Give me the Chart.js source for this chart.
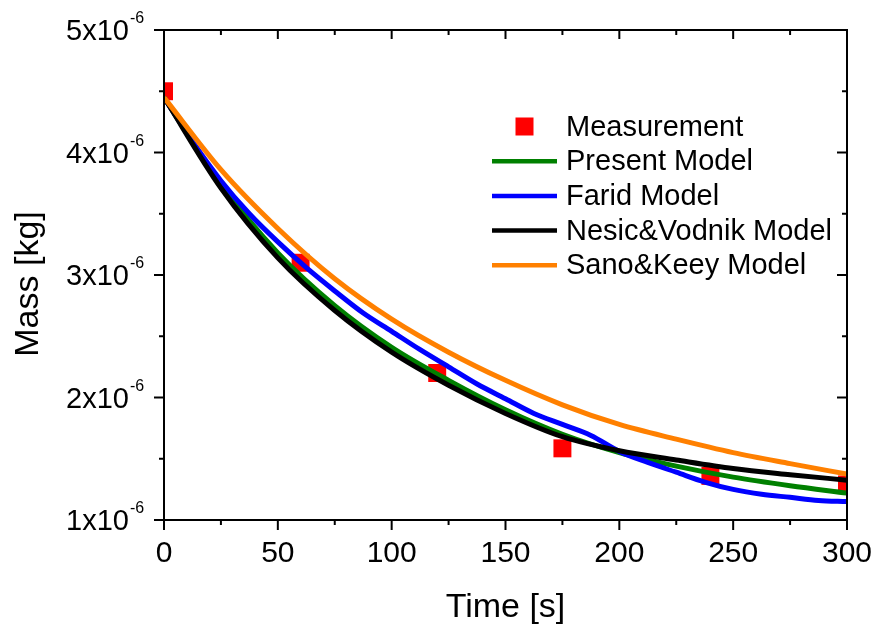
<!DOCTYPE html>
<html>
<head>
<meta charset="utf-8">
<script src="https://cdn.jsdelivr.net/npm/chart.js@4/dist/chart.umd.min.js"></script>
<style>
  html, body { margin: 0; padding: 0; background: #fff; }
  canvas { display: block; }
</style>
</head>
<body>
<canvas id="massChart" width="875" height="628"></canvas>
<script>
// measured mass (red squares)
const measTime = [0, 60, 120, 175, 240, 300];
const measMass = [4.50e-6, 3.10e-6, 2.20e-6, 1.585e-6, 1.36e-6, 1.29e-6];

// smooth models, read every 25 s
const modelTime = [0, 25, 50, 75, 100, 125, 150, 175, 200, 225, 250, 275, 300];
const presentModel = [4.45e-6, 3.74e-6, 3.18e-6, 2.75e-6, 2.41e-6, 2.14e-6, 1.90e-6, 1.70e-6, 1.55e-6, 1.44e-6, 1.35e-6, 1.28e-6, 1.22e-6];
const nesicVodnikModel = [4.45e-6, 3.71e-6, 3.14e-6, 2.71e-6, 2.37e-6, 2.10e-6, 1.87e-6, 1.68e-6, 1.565e-6, 1.49e-6, 1.42e-6, 1.37e-6, 1.325e-6];
const sanoKeeyModel = [4.45e-6, 3.86e-6, 3.38e-6, 2.97e-6, 2.64e-6, 2.37e-6, 2.14e-6, 1.94e-6, 1.78e-6, 1.66e-6, 1.55e-6, 1.46e-6, 1.375e-6];

// Farid model is a bit wobbly, read every 12.5 s
const faridTime = [0, 12.5, 25, 37.5, 50, 62.5, 75, 87.5, 100, 112.5, 125, 137.5, 150, 162.5, 175, 187.5, 200, 212.5, 225, 237.5, 250, 262.5, 275, 287.5, 300];
const faridModel = [4.45e-6, 4.09e-6, 3.77e-6, 3.50e-6, 3.27e-6, 3.06e-6, 2.87e-6, 2.69e-6, 2.54e-6, 2.39e-6, 2.25e-6, 2.11e-6, 1.99e-6, 1.87e-6, 1.78e-6, 1.69e-6, 1.56e-6, 1.47e-6, 1.39e-6, 1.31e-6, 1.25e-6, 1.21e-6, 1.185e-6, 1.16e-6, 1.15e-6];

const xMajorTicks = [0, 50, 100, 150, 200, 250, 300];
const xMinorTicks = [25, 75, 125, 175, 225, 275];
const yMajorTicks = [1e-6, 2e-6, 3e-6, 4e-6, 5e-6];
const yMinorTicks = [1.5e-6, 2.5e-6, 3.5e-6, 4.5e-6];
const yTickLabels = ['1x10', '2x10', '3x10', '4x10', '5x10'];
const yTickExp = '-6';

const FONT = '"Liberation Sans", Arial, sans-serif';

function pairs(xs, ys) {
  return xs.map((x, i) => ({ x: x, y: ys[i] }));
}

const series = [
  { label: 'Present Model', color: '#008000', data: pairs(modelTime, presentModel), order: 4 },
  { label: 'Farid Model', color: '#0000ff', data: pairs(faridTime, faridModel), order: 3 },
  { label: 'Nesic&Vodnik Model', color: '#000000', data: pairs(modelTime, nesicVodnikModel), order: 2 },
  { label: 'Sano&Keey Model', color: '#ff8000', data: pairs(modelTime, sanoKeeyModel), order: 1 }
];

const datasets = [{
  label: 'Measurement',
  data: pairs(measTime, measMass),
  showLine: false,
  pointStyle: 'rect',
  pointRadius: 12.7,
  backgroundColor: '#ff0000',
  borderColor: '#ff0000',
  borderWidth: 0,
  clip: 0,
  order: 5
}].concat(series.map(s => ({
  label: s.label,
  data: s.data,
  borderColor: s.color,
  backgroundColor: s.color,
  borderWidth: 5,
  pointRadius: 0,
  cubicInterpolationMode: 'monotone',
  fill: false,
  clip: 0,
  order: s.order
})));

// frame, ticks, labels and legend drawn the way Origin does it
const originLook = {
  id: 'originLook',
  afterDraw(chart) {
    const ctx = chart.ctx;
    const a = chart.chartArea;
    const xs = chart.scales.x;
    const ys = chart.scales.y;
    ctx.save();
    ctx.strokeStyle = '#000';
    ctx.fillStyle = '#000';
    ctx.lineWidth = 2;
    ctx.strokeRect(a.left, a.top, a.right - a.left, a.bottom - a.top);

    function line(x1, y1, x2, y2) {
      ctx.beginPath();
      ctx.moveTo(x1, y1);
      ctx.lineTo(x2, y2);
      ctx.stroke();
    }

    xMajorTicks.forEach(v => {
      const px = xs.getPixelForValue(v);
      line(px, a.bottom, px, a.bottom + 10);
      line(px, a.top, px, a.top + 9);
    });
    xMinorTicks.forEach(v => {
      const px = xs.getPixelForValue(v);
      line(px, a.bottom, px, a.bottom + 5);
      line(px, a.top, px, a.top + 5);
    });
    yMajorTicks.forEach(v => {
      const py = ys.getPixelForValue(v);
      line(a.left - 10, py, a.left, py);
      line(a.right - 10, py, a.right, py);
    });
    yMinorTicks.forEach(v => {
      const py = ys.getPixelForValue(v);
      line(a.left - 5, py, a.left, py);
      line(a.right - 5, py, a.right, py);
    });

    // x tick labels
    ctx.font = '30px ' + FONT;
    ctx.textAlign = 'center';
    ctx.textBaseline = 'alphabetic';
    xMajorTicks.forEach(v => {
      ctx.fillText(String(v), xs.getPixelForValue(v), 562);
    });

    // y tick labels with superscript
    yMajorTicks.forEach((v, i) => {
      const py = ys.getPixelForValue(v);
      ctx.font = '29px ' + FONT;
      ctx.textAlign = 'right';
      ctx.fillText(yTickLabels[i], 129, py + 10);
      ctx.font = '16px ' + FONT;
      ctx.textAlign = 'left';
      ctx.fillText(yTickExp, 130, py - 7);
    });

    // axis titles
    ctx.font = '34px ' + FONT;
    ctx.textAlign = 'center';
    ctx.fillText('Time [s]', (a.left + a.right) / 2, 617);
    ctx.save();
    ctx.translate(38, 284);
    ctx.rotate(-Math.PI / 2);
    ctx.fillText('Mass [kg]', 0, 0);
    ctx.restore();

    // legend inside the plot
    const rows = [126.5, 161.2, 195.9, 230.6, 265.3];
    ctx.font = '29px ' + FONT;
    ctx.textAlign = 'left';
    ctx.textBaseline = 'middle';
    ctx.fillStyle = '#ff0000';
    ctx.fillRect(515.5, rows[0] - 9, 18, 18);
    ctx.fillStyle = '#000';
    ctx.fillText('Measurement', 566, rows[0] + 1);
    series.forEach((s, i) => {
      const y = rows[i + 1];
      ctx.strokeStyle = s.color;
      ctx.lineWidth = 4.5;
      line(492, y, 557, y);
      ctx.fillStyle = '#000';
      ctx.fillText(s.label, 566, y + 1);
    });
    ctx.restore();
  }
};

new Chart(document.getElementById('massChart'), {
  type: 'line',
  data: { datasets: datasets },
  options: {
    responsive: false,
    devicePixelRatio: 1,
    animation: false,
    events: [],
    layout: { padding: { left: 164, right: 28, top: 30, bottom: 108 } },
    scales: {
      x: { type: 'linear', min: 0, max: 300, display: false },
      y: { type: 'linear', min: 1e-6, max: 5e-6, display: false }
    },
    plugins: {
      legend: { display: false },
      tooltip: { enabled: false }
    }
  },
  plugins: [originLook]
});
</script>
</body>
</html>
